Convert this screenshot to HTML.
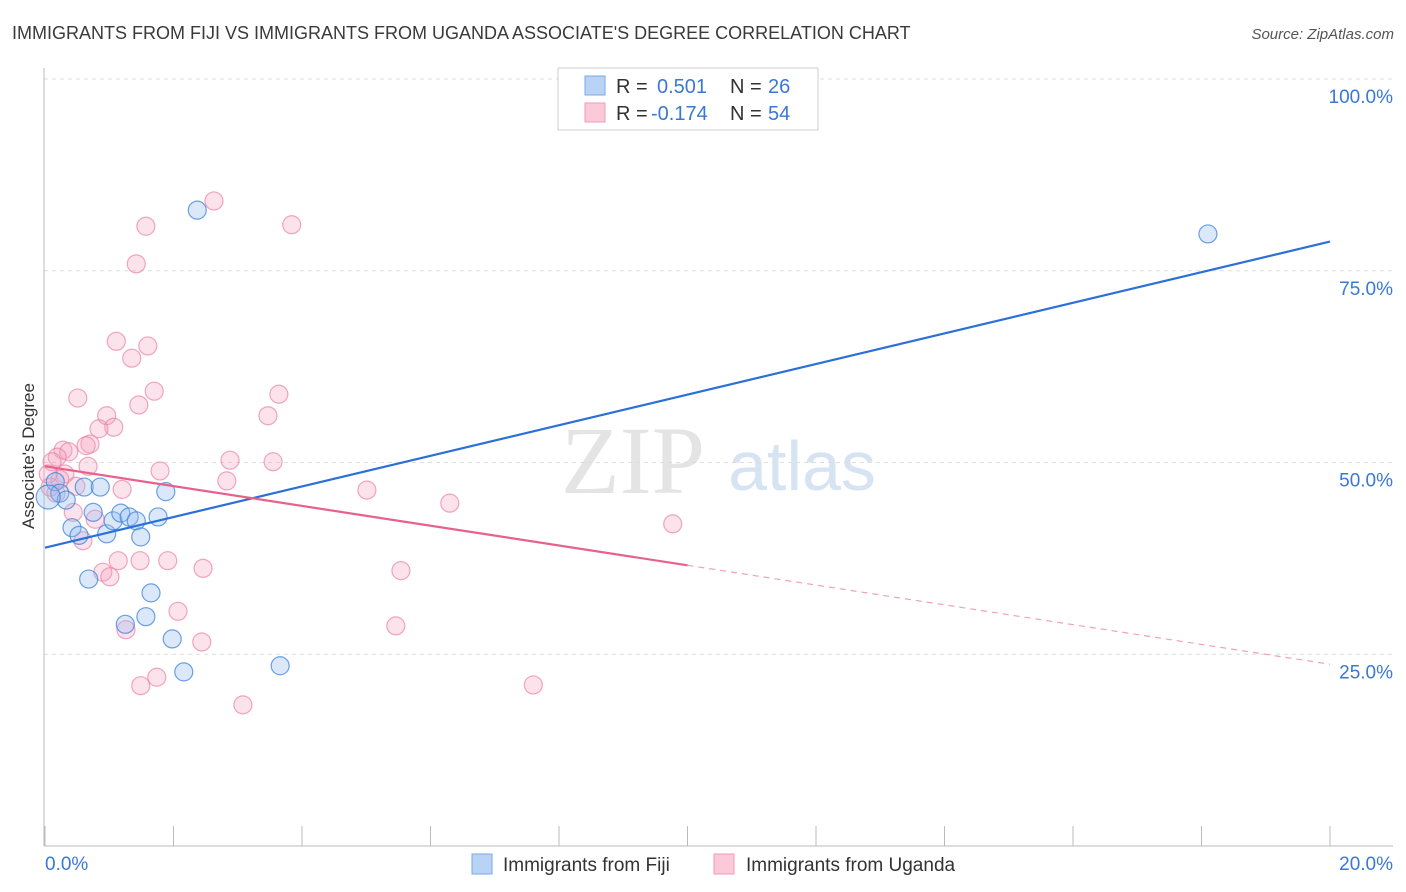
<!DOCTYPE html>
<html><head><meta charset="utf-8"><style>
body{margin:0;background:#fff;font-family:"Liberation Sans",sans-serif;}
#wrap{position:relative;width:1406px;height:892px;overflow:hidden;}
</style></head><body>
<div id="wrap">
<svg id="svg" width="1406" height="892" xmlns="http://www.w3.org/2000/svg">
<text x="12" y="39" font-size="18" fill="#3a3a3a">IMMIGRANTS FROM FIJI VS IMMIGRANTS FROM UGANDA ASSOCIATE'S DEGREE CORRELATION CHART</text>
<text x="1394" y="39" font-size="15" fill="#555" font-style="italic" text-anchor="end">Source: ZipAtlas.com</text>
<text x="633" y="493" font-size="96" fill="#e4e4e4" font-family="Liberation Serif,serif" text-anchor="middle">ZIP</text>
<text x="802" y="490" font-size="70" fill="#d6e3f3" text-anchor="middle">atlas</text>
<text transform="translate(34,456) rotate(-90)" font-size="17" fill="#333" text-anchor="middle">Associate's Degree</text>
<g id="grid"></g><g id="pts"></g><g id="lines"></g>
<g>
<rect x="558" y="68" width="260" height="62" fill="#fff" stroke="#ccc"/>
<rect x="585" y="76" width="20" height="19" fill="#b8d3f5" stroke="#7aa8e8"/>
<rect x="585" y="103" width="20" height="19" fill="#fbc9d8" stroke="#f09ab5"/>
<text x="616" y="93" font-size="20" fill="#333">R = </text><text x="657" y="93" font-size="20" fill="#3a78d6">0.501</text>
<text x="730" y="93" font-size="20" fill="#333">N = </text><text x="768" y="93" font-size="20" fill="#3a78d6">26</text>
<text x="616" y="120" font-size="20" fill="#333">R = </text><text x="651" y="120" font-size="20" fill="#3a78d6">-0.174</text>
<text x="730" y="120" font-size="20" fill="#333">N = </text><text x="768" y="120" font-size="20" fill="#3a78d6">54</text>
</g>
<g>
<rect x="472" y="854" width="20" height="20" fill="#b8d3f5" stroke="#7aa8e8"/>
<text x="503" y="871" font-size="19" fill="#333">Immigrants from Fiji</text>
<rect x="714" y="854" width="20" height="20" fill="#fbc9d8" stroke="#f09ab5"/>
<text x="746" y="871" font-size="19" fill="#333">Immigrants from Uganda</text>
</g>
</svg></div>
<script>
const yTicks=[25,50,75,100];
const yTickLabels=["25.0%","50.0%","75.0%","100.0%"];
const xTickLabels=["0.0%","20.0%"];
const fijiX=[2.37,18.10,0.16,0.23,0.33,0.61,0.86,0.75,0.42,0.53,0.96,1.06,1.18,1.31,1.42,1.49,1.76,1.88,0.68,1.65,1.57,1.25,1.98,2.16,3.66,0.05];
const fijiY=[82.9,79.8,47.5,46.0,45.1,46.8,46.8,43.5,41.5,40.5,40.7,42.4,43.4,42.9,42.4,40.3,42.9,46.2,34.8,33.0,29.9,28.9,27.0,22.7,23.5,45.5];
const ugX=[2.63,1.57,3.84,1.42,1.11,1.60,1.35,1.70,0.51,3.64,1.46,0.96,3.47,1.07,0.84,0.28,0.37,0.70,0.64,0.19,0.11,2.88,3.55,0.67,0.31,0.23,1.79,2.83,1.20,5.01,6.30,0.48,0.17,0.78,0.44,0.59,9.77,1.48,1.14,1.91,2.46,5.54,0.90,1.01,2.07,1.26,2.44,5.46,1.74,1.49,7.60,3.08,0.05,0.08];
const ugY=[84.1,80.8,81.0,75.9,65.8,65.2,63.6,59.3,58.4,58.9,57.5,56.1,56.1,54.6,54.4,51.6,51.4,52.4,52.2,50.7,50.1,50.3,50.1,49.5,48.5,47.8,48.9,47.6,46.5,46.4,44.7,46.9,46.0,42.6,43.5,39.8,42.0,37.2,37.2,37.2,36.2,35.9,35.7,35.1,30.6,28.2,26.6,28.7,22.0,20.9,21.0,18.4,48.5,46.8];
const fijiTrend=[38.9,78.8];
const ugTrend=[49.5,23.7];
const ugSolidEnd=10;
const X=v=>45+v/20*1285, Y=v=>846-v*7.67;
const NS="http://www.w3.org/2000/svg";
function mk(p,t,a){const e=document.createElementNS(NS,t);for(const k in a)e.setAttribute(k,a[k]);p.appendChild(e);return e;}
const grid=document.getElementById('grid');
yTicks.forEach((t,i)=>{
 const l=mk(grid,'line',{x1:44,x2:1393,y1:Y(t),y2:Y(t),stroke:'#ddd','stroke-dasharray':'4,4'});
 
 
 const tx=mk(grid,'text',{x:1393,y:Y(t)+24,'font-size':19,fill:'#3a78d6','text-anchor':'end'});
 tx.textContent=yTickLabels[i];
 
 
});
mk(grid,'line',{x1:44,x2:44,y1:68,y2:846,stroke:'#bbb'});
mk(grid,'line',{x1:44,x2:1393,y1:846,y2:846,stroke:'#bbb'});
for(let i=0;i<=10;i++){const x=X(i*2);mk(grid,'line',{x1:x,x2:x,y1:826,y2:846,stroke:'#bbb'});}
[[0,45,'start'],[1,1393,'end']].forEach(([i,x,a])=>{
 const t=mk(grid,'text',{x:x,y:870,'font-size':19,fill:'#3a78d6','text-anchor':a});
 t.textContent=xTickLabels[i];
 
 
});
const pts=document.getElementById('pts');
ugX.forEach((v,i)=>{
 const c=mk(pts,'circle',{cx:X(v),cy:Y(ugY[i]),r:9,fill:'rgba(246,160,190,0.3)',stroke:'rgba(235,130,165,0.7)','stroke-width':1.2});
 
 
});
fijiX.forEach((v,i)=>{
 const c=mk(pts,'circle',{cx:X(v),cy:Y(fijiY[i]),r:(i===25?12:9),fill:'rgba(150,190,240,0.35)',stroke:'rgba(60,130,220,0.75)','stroke-width':1.2});
 
 
});
const lines=document.getElementById('lines');
const bl=mk(lines,'line',{x1:X(0),y1:Y(fijiTrend[0]),x2:X(20),y2:Y(fijiTrend[1]),stroke:'#2a70d8','stroke-width':2.2});


const ugAt=v=>ugTrend[0]+(ugTrend[1]-ugTrend[0])*v/20;
const pl=mk(lines,'line',{x1:X(0),y1:Y(ugTrend[0]),x2:X(ugSolidEnd),y2:Y(ugAt(ugSolidEnd)),stroke:'#e8608e','stroke-width':2.2});


const pd=mk(lines,'line',{x1:X(ugSolidEnd),y1:Y(ugAt(ugSolidEnd)),x2:X(20),y2:Y(ugTrend[1]),stroke:'#f0a0bb','stroke-width':1.2,'stroke-dasharray':'6,5'});


</script>
</body></html>
